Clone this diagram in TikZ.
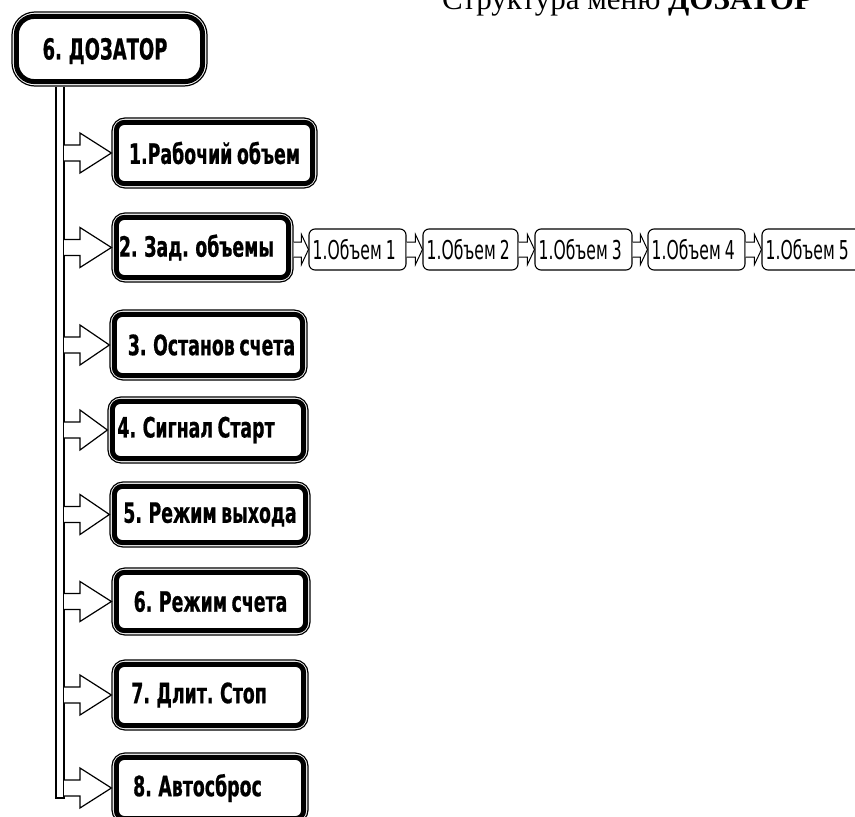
\documentclass[tikz,border=0pt]{standalone}
\usepackage{fontspec}
\setmainfont{Liberation Serif}
\newfontfamily\dfont[FakeStretch=0.62,WordSpace=0.75,BoldFeatures={FakeBold=0.6}]{DejaVu Sans}
\newfontfamily\sfont[FakeStretch=0.6,WordSpace=0.8]{DejaVu Sans}
\usetikzlibrary{calc}
\tikzset{
 mainbox/.style={draw, line width=1.2pt, rounded corners=13pt, inner sep=0pt, fill=white},
 innerline/.style={line width=5pt, rounded corners=8pt},
 maintext/.style={inner sep=0pt, font=\dfont\bfseries\fontsize{28}{30}\selectfont},
 subboxst/.style={draw, line width=1.1pt, rounded corners=6pt, inner sep=0pt, fill=white},
 subtext/.style={inner sep=0pt, anchor=west, font=\sfont\fontsize{26}{28}\selectfont},
 harrow/.style={draw, line width=1.2pt, fill=white, line join=miter},
 busline/.style={line width=1.2pt},
}
\newcommand\mainitem[7]{%
 \node[mainbox, minimum width={#4-#2}, minimum height={#5-#3}] (#1) at ({(#2+#4)/2},{(#3+#5)/2}) {};
 \draw[innerline] ([shift={(5pt,-5pt)}]#1.north west) rectangle ([shift={(-5pt,5pt)}]#1.south east);
 \node[maintext] (#1t) at (#6,{(#3+#5)/2}) {#7};
}
\newcommand\bigarrow[1]{%
 \draw[harrow] ($(busR |- #1.west)+(0,-8)$) -- ($(busR |- #1.west)+(16,-8)$) -- ($(busR |- #1.west)+(16,-20)$) -- (#1.west) -- ($(busR |- #1.west)+(16,20)$) -- ($(busR |- #1.west)+(16,8)$) -- ($(busR |- #1.west)+(0,8)$);
}
\newcommand\smallitem[4]{%
 \node[subboxst, minimum width={#3-#2}, minimum height=41] (#1) at ({(#2+#3)/2},249.5) {};
 \node[subtext] (#1t) at ([xshift=4pt]#1.west) {#4};
}
\newcommand\smallarrow[2]{%
 \draw[harrow, line width=1pt] ($(#1.east |- #2.west)+(0,-7.5)$) -- ($(#2.west)+(-7,-7.5)$) -- ($(#2.west)+(-7,-15)$) -- (#2.west) -- ($(#2.west)+(-7,15)$) -- ($(#2.west)+(-7,7.5)$) -- ($(#1.east |- #2.west)+(0,7.5)$);
}
\begin{document}
\begin{tikzpicture}[x=1pt,y=-1pt]
\useasboundingbox (0,0) rectangle (855,817);
\clip (0,0) rectangle (855,817);

\node[anchor=base west, inner sep=0pt, font=\fontsize{31}{34}\selectfont] (title) at (442,9) {Структура меню \textbf{ДОЗАТОР}};

% root
\node[mainbox, rounded corners=23pt, minimum width=195pt, minimum height=74pt] (root) at (109.5,49) {};
\draw[innerline, rounded corners=18pt] ([shift={(5pt,-5pt)}]root.north west) rectangle ([shift={(-5pt,5pt)}]root.south east);
\node[maintext, font=\dfont\bfseries\fontsize{29}{31}\selectfont] (roott) at (105,51) {6. ДОЗАТОР};

% bus
\coordinate (busL) at (56,0);
\coordinate (busR) at (64,0);
\coordinate (busend) at (0,798);
\draw[busline] (busL |- root.south) -- (busL |- busend) -- (busR |- busend) -- (busR |- root.south);

% main items
\mainitem{b1}{112}{118}{317}{188}{214.5}{1.Рабочий объем}
\mainitem{b2}{112}{213}{293}{282}{196.5}{2. Зад. объемы}
\mainitem{b3}{110}{310}{307}{380}{211.5}{3. Останов счета}
\mainitem{b4}{108}{397}{308}{463}{196}{4. Сигнал Старт}
\mainitem{b5}{110}{482}{310}{547}{210}{5. Режим выхода}
\mainitem{b6}{112}{568}{310}{635}{210.5}{6. Режим счета}
\mainitem{b7}{112}{660}{308}{730}{199}{7. Длит. Стоп}
\mainitem{b8}{112}{753}{308}{823}{197.5}{8. Автосброс}

\foreach \b in {b1,b2,b3,b4,b5,b6,b7,b8} {\bigarrow{\b}}

% sub items
\smallitem{s1}{309}{406}{1.Объем 1}
\smallitem{s2}{423}{518}{1.Объем 2}
\smallitem{s3}{535}{632}{1.Объем 3}
\smallitem{s4}{648}{745}{1.Объем 4}
\smallitem{s5}{762}{880}{1.Объем 5}

\smallarrow{b2}{s1}
\smallarrow{s1}{s2}
\smallarrow{s2}{s3}
\smallarrow{s3}{s4}
\smallarrow{s4}{s5}
\end{tikzpicture}
\end{document}
